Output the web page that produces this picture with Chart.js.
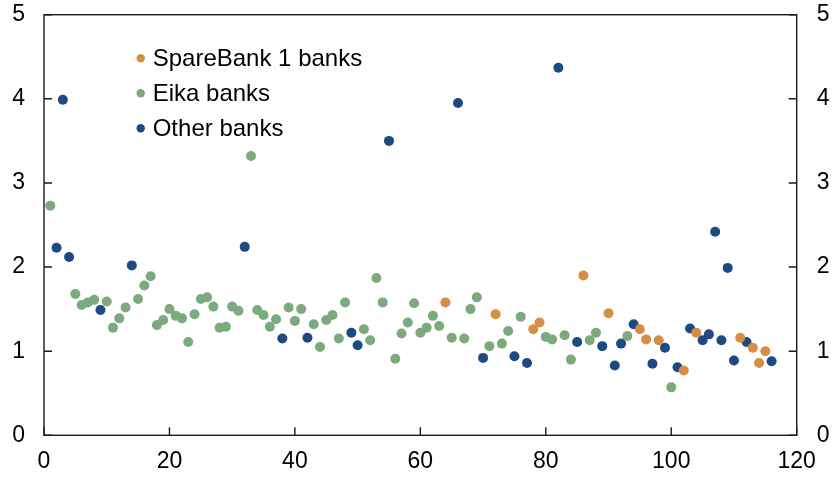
<!DOCTYPE html>
<html>
<head>
<meta charset="utf-8">
<script src="https://cdn.jsdelivr.net/npm/chart.js@4.4.1/dist/chart.umd.min.js"></script>
<style>
  html, body { margin: 0; padding: 0; background: #ffffff; }
  #wrap { width: 835px; height: 478px; position: relative; }
</style>
</head>
<body>
<div id="wrap"><canvas id="c" width="835" height="478"></canvas></div>
<script>
// ---- Data ----
const seriesNames = ['SpareBank 1 banks', 'Eika banks', 'Other banks'];

const sparebankX = [64, 72, 78, 79, 86, 90, 95, 96, 98, 102, 104, 111, 113, 114, 115];
const sparebankY = [1.58, 1.44, 1.26, 1.34, 1.90, 1.45, 1.26, 1.14, 1.13, 0.77, 1.22, 1.16, 1.04, 0.86, 1.00];

const eikaX = [1, 5, 6, 7, 8, 10, 11, 12, 13, 15, 16, 17, 18, 19, 20, 21, 22, 23, 24, 25, 26, 27, 28, 29, 30, 31,
               33, 34, 35, 36, 37, 39, 40, 41, 43, 44, 45, 46, 47, 48, 51, 52, 53, 54, 56, 57, 58, 59, 60, 61, 62, 63,
               65, 67, 68, 69, 71, 73, 74, 76, 80, 81, 83, 84, 87, 88, 93, 100];
const eikaY = [2.73, 1.68, 1.55, 1.58, 1.61, 1.59, 1.28, 1.39, 1.52, 1.62, 1.78, 1.89, 1.31, 1.37, 1.50, 1.42, 1.39, 1.11, 1.44, 1.62, 1.64, 1.53, 1.28, 1.29, 1.53, 1.48,
               3.32, 1.49, 1.43, 1.29, 1.38, 1.52, 1.36, 1.50, 1.32, 1.05, 1.37, 1.43, 1.15, 1.58, 1.26, 1.13, 1.87, 1.58, 0.91, 1.21, 1.34, 1.57, 1.22, 1.28, 1.42, 1.30,
               1.16, 1.15, 1.50, 1.64, 1.06, 1.09, 1.24, 1.41, 1.17, 1.14, 1.19, 0.90, 1.13, 1.22, 1.18, 0.57];

const otherX = [2, 3, 4, 9, 14, 32, 38, 42, 49, 50, 55, 66, 70, 75, 77, 82, 85, 89, 91, 92, 94, 97, 99, 101, 103,
                105, 106, 107, 108, 109, 110, 112, 116];
const otherY = [2.23, 3.99, 2.12, 1.49, 2.02, 2.24, 1.15, 1.16, 1.22, 1.07, 3.50, 3.95, 0.92, 0.94, 0.86, 4.37, 1.11, 1.06, 0.83, 1.09, 1.32, 0.85, 1.04, 0.81, 1.27,
                1.13, 1.20, 2.42, 1.13, 1.99, 0.89, 1.11, 0.88];

const xTickValues = [0, 20, 40, 60, 80, 100, 120];
const yTickValues = [0, 1, 2, 3, 4, 5];

// ---- Styles ----
const colors = ['#D68E43', '#7BAA7F', '#1D4A80'];
const FONT = 'Arial, "Liberation Sans", Helvetica, sans-serif';
const AXIS_COLOR = '#1a1a1a';

function toPoints(xs, ys) { return xs.map((x, i) => ({ x: x, y: ys[i] })); }

const datasets = [
  { label: seriesNames[0], data: toPoints(sparebankX, sparebankY) },
  { label: seriesNames[1], data: toPoints(eikaX, eikaY) },
  { label: seriesNames[2], data: toPoints(otherX, otherY) }
].map((d, i) => Object.assign(d, {
  backgroundColor: colors[i],
  borderColor: colors[i],
  borderWidth: 0,
  pointRadius: 5,
  pointHoverRadius: 5,
  showLine: false,
  yAxisID: 'y'
}));

const framePlugin = {
  id: 'frameTicksLegend',
  afterDraw(chart) {
    const ctx = chart.ctx;
    const a = chart.chartArea;
    const xs = chart.scales.x, ys = chart.scales.y;
    ctx.save();
    ctx.strokeStyle = AXIS_COLOR;
    ctx.lineWidth = 1.4;
    ctx.strokeRect(a.left, a.top, a.right - a.left, a.bottom - a.top);
    const tl = 8;
    ctx.beginPath();
    xTickValues.forEach(v => {
      const px = xs.getPixelForValue(v);
      ctx.moveTo(px, a.bottom); ctx.lineTo(px, a.bottom - tl);
    });
    yTickValues.forEach(v => {
      const py = ys.getPixelForValue(v);
      ctx.moveTo(a.left, py); ctx.lineTo(a.left + tl, py);
      ctx.moveTo(a.right, py); ctx.lineTo(a.right - tl, py);
    });
    ctx.stroke();

    // legend inside the plot
    const lx = a.left + 96.7, ly = a.top + 43.6, gap = 35;
    ctx.font = '24px ' + FONT;
    ctx.textBaseline = 'middle';
    ctx.textAlign = 'left';
    chart.data.datasets.forEach((d, i) => {
      const y = ly + i * gap;
      ctx.fillStyle = d.backgroundColor;
      ctx.beginPath();
      ctx.arc(lx, y, 4.2, 0, Math.PI * 2);
      ctx.fill();
      ctx.fillStyle = '#000000';
      ctx.fillText(d.label, lx + 12, y + 1);
    });
    ctx.restore();
  }
};

new Chart(document.getElementById('c'), {
  type: 'scatter',
  data: { datasets: datasets },
  options: {
    responsive: false,
    animation: false,
    devicePixelRatio: 1,
    layout: { padding: { top: 0, left: 0, right: 0, bottom: 0 } },
    plugins: { legend: { display: false }, tooltip: { enabled: false } },
    scales: {
      x: {
        type: 'linear', min: 0, max: 120,
        afterBuildTicks: s => { s.ticks = xTickValues.map(v => ({ value: v })); },
        afterFit: s => { s.height = 42.7; },
        grid: { display: false, drawTicks: false },
        border: { display: false },
        ticks: { color: '#000', font: { family: FONT, size: 23 }, padding: 13, maxRotation: 0 }
      },
      y: {
        type: 'linear', position: 'left', min: 0, max: 5,
        afterBuildTicks: s => { s.ticks = yTickValues.map(v => ({ value: v })); },
        afterFit: s => { s.width = 44; s.paddingTop = 14.7; },
        grid: { display: false, drawTicks: false },
        border: { display: false },
        ticks: { color: '#000', font: { family: FONT, size: 23, lineHeight: 1 }, padding: 19 }
      },
      y2: {
        type: 'linear', position: 'right', min: 0, max: 5,
        afterBuildTicks: s => { s.ticks = yTickValues.map(v => ({ value: v })); },
        afterFit: s => { s.width = 38.3; s.paddingTop = 14.7; },
        grid: { display: false, drawTicks: false },
        border: { display: false },
        ticks: { color: '#000', font: { family: FONT, size: 23, lineHeight: 1 }, padding: 20 }
      }
    }
  },
  plugins: [framePlugin]
});
</script>
</body>
</html>
